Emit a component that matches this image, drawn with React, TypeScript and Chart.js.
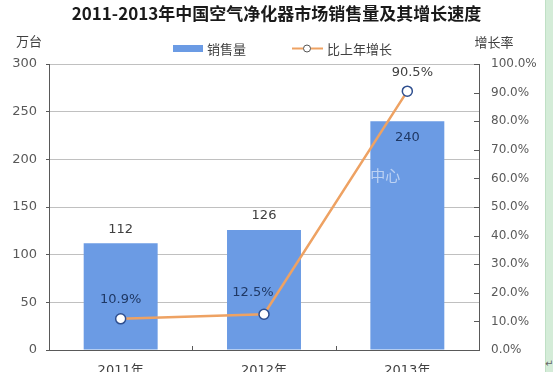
import React, { useEffect, useRef } from "react";
import { Chart, registerables } from "chart.js";

Chart.register(...registerables);

const TITLE = "2011-2013年中国空气净化器市场销售量及其增长速度";
const categories = ["2011年", "2012年", "2013年"];
const salesValues = [112, 126, 240];
const growthValues = [10.9, 12.5, 90.5];
const salesLabels = ["112", "126", "240"];
const growthLabels = ["10.9%", "12.5%", "90.5%"];
const leftAxisRange = [0, 300, 50];
const rightAxisRange = [0, 100, 10];
const legendLabels = ["销售量", "比上年增长"];
const axisTitles = ["万台", "增长率"];
const watermark = "中心";

const BAR_COLOR = "#6b9be4";
const LINE_COLOR = "#eea263";
const POINT_BORDER = "#2f4f8f";
const NAVY = "#1f3864";
const GRAY_TEXT = "#404040";
const AXIS_COLOR = "#595959";
const NUM_FONT = "'DejaVu Sans', 'Noto Sans CJK SC', sans-serif";
const CJK_FONT = "'Noto Sans CJK SC', 'DejaVu Sans', sans-serif";

const decorPlugin = {
  id: "decor",
  afterDraw(chart: any) {
    const ctx = chart.ctx as CanvasRenderingContext2D;
    const area = chart.chartArea;
    const xs = chart.scales.x;
    const y1 = chart.scales.y1;
    ctx.save();

    // inside ticks on right axis
    ctx.strokeStyle = AXIS_COLOR;
    ctx.lineWidth = 1;
    y1.ticks.forEach((t: any) => {
      const py = Math.round(y1.getPixelForValue(t.value)) + 0.5;
      ctx.beginPath();
      ctx.moveTo(area.right - 5, py);
      ctx.lineTo(area.right, py);
      ctx.stroke();
    });
    // inside ticks between categories
    for (let i = 0; i < categories.length - 1; i++) {
      const px = Math.round((xs.getPixelForValue(i) + xs.getPixelForValue(i + 1)) / 2) + 0.5;
      ctx.beginPath();
      ctx.moveTo(px, area.bottom);
      ctx.lineTo(px, area.bottom - 4);
      ctx.stroke();
    }

    const barMeta = chart.getDatasetMeta(0);
    const lineMeta = chart.getDatasetMeta(1);

    // watermark
    const b2 = barMeta.data[2];
    ctx.fillStyle = "rgba(255,255,255,0.55)";
    ctx.font = `15px ${CJK_FONT}`;
    ctx.textAlign = "center";
    ctx.textBaseline = "middle";
    ctx.fillText(watermark, b2.x - 22, b2.y + 54);

    // bar labels
    ctx.font = `13px ${NUM_FONT}`;
    barMeta.data.forEach((el: any, i: number) => {
      if (i < 2) {
        ctx.fillStyle = GRAY_TEXT;
        ctx.fillText(salesLabels[i], el.x, el.y - 14);
      } else {
        ctx.fillStyle = NAVY;
        ctx.fillText(salesLabels[i], el.x, el.y + 16);
      }
    });
    // line labels
    const offs = [
      [0, -19, NAVY],
      [-11, -22, NAVY],
      [5, -19, GRAY_TEXT],
    ];
    lineMeta.data.forEach((el: any, i: number) => {
      const [dx, dy, c] = offs[i] as [number, number, string];
      ctx.fillStyle = c;
      ctx.fillText(growthLabels[i], el.x + dx, el.y + dy);
    });

    // title
    ctx.fillStyle = "#1a1a1a";
    ctx.font = `bold 17px ${CJK_FONT}`;
    ctx.fillText(TITLE, chart.width / 2, 14);

    // axis titles
    ctx.fillStyle = GRAY_TEXT;
    ctx.font = `13px ${CJK_FONT}`;
    ctx.fillText(axisTitles[0], 29, 41);
    ctx.fillText(axisTitles[1], 494, 42);

    // legend
    ctx.fillStyle = BAR_COLOR;
    ctx.fillRect(173, 45, 30, 7);
    ctx.fillStyle = GRAY_TEXT;
    ctx.textAlign = "left";
    ctx.fillText(legendLabels[0], 207, 49);
    ctx.strokeStyle = LINE_COLOR;
    ctx.lineWidth = 2;
    ctx.beginPath();
    ctx.moveTo(292, 48.5);
    ctx.lineTo(323, 48.5);
    ctx.stroke();
    ctx.beginPath();
    ctx.arc(307, 48.5, 3.5, 0, Math.PI * 2);
    ctx.fillStyle = "#ffffff";
    ctx.fill();
    ctx.strokeStyle = "#555555";
    ctx.lineWidth = 1;
    ctx.stroke();
    ctx.fillStyle = GRAY_TEXT;
    ctx.fillText(legendLabels[1], 327, 49);

    ctx.restore();
  },
};

export default function App() {
  const ref = useRef<HTMLCanvasElement | null>(null);

  useEffect(() => {
    if (!ref.current) return;
    const chart = new Chart(ref.current, {
      type: "bar",
      data: {
        labels: categories,
        datasets: [
          {
            type: "bar",
            label: legendLabels[0],
            data: salesValues,
            backgroundColor: BAR_COLOR,
            borderWidth: 0,
            categoryPercentage: 1,
            barPercentage: 0.516,
            yAxisID: "y",
            order: 2,
          } as any,
          {
            type: "line",
            label: legendLabels[1],
            data: growthValues,
            borderColor: LINE_COLOR,
            borderWidth: 2.5,
            tension: 0,
            pointRadius: 5,
            pointBackgroundColor: "#ffffff",
            pointBorderColor: POINT_BORDER,
            pointBorderWidth: 1.5,
            yAxisID: "y1",
            order: 1,
          } as any,
        ],
      },
      options: {
        animation: false,
        responsive: false,
        maintainAspectRatio: false,
        layout: { padding: { top: 64, left: 0, right: 0, bottom: 0 } },
        plugins: {
          legend: { display: false },
          title: { display: false },
          tooltip: { enabled: false },
        },
        scales: {
          x: {
            type: "category",
            offset: true,
            grid: { display: false, drawTicks: false },
            border: { display: true, color: AXIS_COLOR, width: 1 },
            ticks: {
              color: GRAY_TEXT,
              font: { size: 13, family: NUM_FONT },
              padding: 13,
            },
            afterFit: (s: any) => {
              s.height = 22;
            },
          },
          y: {
            position: "left",
            min: leftAxisRange[0],
            max: leftAxisRange[1],
            ticks: {
              stepSize: leftAxisRange[2],
              color: AXIS_COLOR,
              font: { size: 13, family: NUM_FONT },
              padding: 9,
            },
            grid: {
              color: "#c0c0c0",
              lineWidth: 1,
              drawTicks: true,
              tickLength: 3,
              tickColor: AXIS_COLOR,
            },
            border: { display: true, color: AXIS_COLOR, width: 1 },
            afterFit: (s: any) => {
              s.width = 49;
            },
          },
          y1: {
            position: "right",
            min: rightAxisRange[0],
            max: rightAxisRange[1],
            ticks: {
              stepSize: rightAxisRange[2],
              color: AXIS_COLOR,
              font: { size: 12, family: NUM_FONT },
              padding: 12,
              callback: (v: any) => Number(v).toFixed(1) + "%",
            },
            grid: { drawOnChartArea: false, drawTicks: false },
            border: { display: true, color: AXIS_COLOR, width: 1 },
            afterFit: (s: any) => {
              s.width = 74;
            },
          },
        },
      },
      plugins: [decorPlugin],
    });
    return () => chart.destroy();
  }, []);

  return (
    <div
      style={{
        position: "fixed",
        left: 0,
        top: 0,
        width: 553,
        height: 372,
        background: "#ffffff",
        overflow: "hidden",
      }}
    >
      <canvas ref={ref} width={553} height={372} style={{ display: "block" }} />
      <div
        style={{
          position: "absolute",
          left: 545,
          top: 0,
          width: 8,
          height: 372,
          background: "#d4ecd8",
          borderLeft: "1px solid #bfe0c5",
          boxSizing: "border-box",
        }}
      />
      <span
        style={{
          position: "absolute",
          left: 545,
          top: 358,
          fontSize: 10,
          color: "#666",
          fontFamily: NUM_FONT,
        }}
      >
        ↵
      </span>
    </div>
  );
}
